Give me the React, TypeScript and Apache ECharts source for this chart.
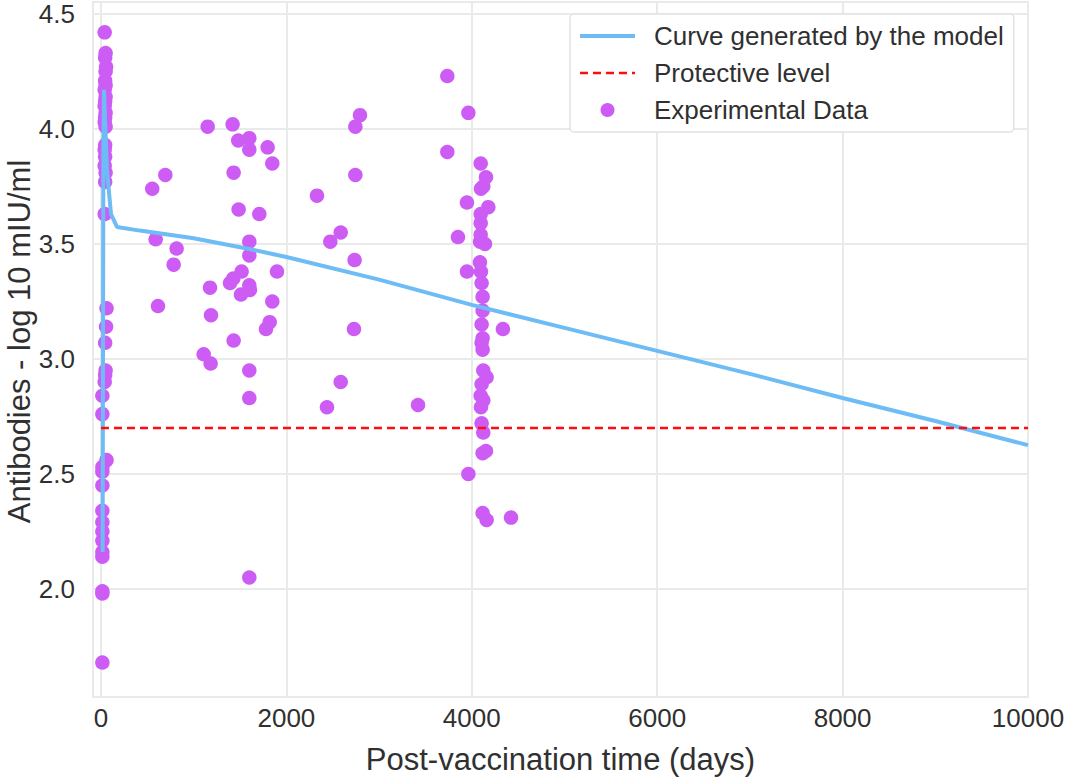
import React, { useEffect, useRef } from "react";
import * as echarts from "echarts";

const seriesNames = ["Curve generated by the model", "Protective level", "Experimental Data"];
const xAxisTitle = "Post-vaccination time (days)";
const yAxisTitle = "Antibodies - log 10 mIU/ml";

// Model curve: [days, log10 mIU/ml]
const modelCurve: number[][] = [
  [18, 2.16], [26, 3.9], [32, 4.17], [43, 4.05], [65, 3.82], [108, 3.63], [173, 3.574],
  [420, 3.558], [1000, 3.525], [1600, 3.478], [2000, 3.443], [3000, 3.345], [4000, 3.235],
  [5000, 3.135], [6000, 3.035], [7000, 2.935], [8000, 2.83], [9000, 2.73], [10000, 2.625],
];

const protectiveLevel = 2.7;
const protectiveRange = [0, 10000];

// Experimental data: [days, log10 mIU/ml]
const experimental: number[][] = [
  [40, 4.42], [50, 4.33], [45, 4.31], [55, 4.27], [50, 4.25], [45, 4.21], [50, 4.19], [40, 4.17],
  [50, 4.14], [45, 4.12], [40, 4.1], [50, 4.07], [45, 4.05], [40, 4.03], [50, 4.01],
  [45, 3.93], [40, 3.91], [45, 3.88], [40, 3.84], [50, 3.81], [45, 3.77], [40, 3.63],
  [60, 3.22], [55, 3.14], [45, 3.07], [50, 2.95], [45, 2.93], [40, 2.9], [15, 2.84], [15, 2.76],
  [60, 2.56], [15, 2.53], [15, 2.51], [15, 2.45], [15, 2.34], [15, 2.29], [15, 2.25], [15, 2.21],
  [15, 2.16], [15, 2.14], [15, 1.99], [15, 1.98], [15, 1.68],
  [553, 3.74], [590, 3.52], [615, 3.23], [694, 3.8], [784, 3.41], [816, 3.48],
  [1108, 3.02], [1151, 4.01], [1176, 3.31], [1183, 2.98], [1187, 3.19],
  [1392, 3.33], [1420, 4.02], [1428, 3.35], [1431, 3.81], [1431, 3.08], [1481, 3.95], [1485, 3.65],
  [1510, 3.28], [1517, 3.38],
  [1600, 3.96], [1600, 3.91], [1600, 3.51], [1600, 3.45], [1600, 3.32], [1607, 3.3], [1600, 2.95],
  [1600, 2.83], [1600, 2.05],
  [1708, 3.63], [1780, 3.13], [1798, 3.92], [1820, 3.16], [1848, 3.85], [1848, 3.25], [1899, 3.38],
  [2330, 3.71], [2438, 2.79], [2474, 3.51], [2586, 3.55], [2586, 2.9], [2729, 3.13], [2736, 3.43],
  [2744, 4.01], [2744, 3.8], [2794, 4.06],
  [3420, 2.8],
  [3736, 4.23], [3736, 3.9], [3851, 3.53], [3948, 3.68], [3948, 3.38], [3963, 4.07], [3963, 2.5],
  [4096, 3.85], [4153, 3.79], [4124, 3.75], [4099, 3.74], [4178, 3.66], [4096, 3.63], [4096, 3.59],
  [4096, 3.54], [4142, 3.5], [4090, 3.51], [4088, 3.42], [4099, 3.38], [4106, 3.33], [4117, 3.27],
  [4117, 3.21], [4106, 3.15], [4336, 3.13], [4117, 3.09], [4106, 3.07], [4117, 3.04], [4124, 2.95],
  [4160, 2.92], [4106, 2.89], [4096, 2.84], [4124, 2.82], [4099, 2.79], [4106, 2.72], [4124, 2.68],
  [4153, 2.6], [4117, 2.59], [4117, 2.33], [4160, 2.3], [4423, 2.31],
];

const xRange = [-86, 10000];
const yRange = [1.53, 4.552];
const xStep = 2000;
const yStep = 0.5;

const FONT = "'Liberation Sans', Arial, sans-serif";
const TEXT = "#303030";
const GRID = "#e9eaea";
const BLUE = "#6ebcf6";
const RED = "#ff0d0d";
const PURPLE = "#cd5cf5";

const hiddenSymbol = { color: "rgba(0,0,0,0)", borderWidth: 0, borderColor: "rgba(0,0,0,0)", opacity: 0 };

export default function App() {
  const ref = useRef<HTMLDivElement>(null);
  useEffect(() => {
    if (!ref.current) return;
    const chart = echarts.init(ref.current, undefined, { renderer: "svg" });
    chart.setOption({
      animation: false,
      backgroundColor: "#ffffff",
      textStyle: { fontFamily: FONT },
      grid: {
        left: 93, right: 37, top: 2, bottom: 85,
        containLabel: false,
        outerBoundsMode: "none",
        show: true, borderColor: GRID, borderWidth: 2, backgroundColor: "#ffffff",
      },
      legend: {
        data: [
          { name: seriesNames[0], itemStyle: hiddenSymbol, lineStyle: { color: BLUE, width: 4 } },
          { name: seriesNames[1], itemStyle: hiddenSymbol, lineStyle: { color: RED, width: 2.5, type: [8, 5] } },
          { name: seriesNames[2] },
        ],
        orient: "vertical",
        left: 570,
        top: 14,
        padding: [7, 10, 7, 8],
        itemWidth: 55,
        itemHeight: 14,
        itemGap: 7,
        backgroundColor: "#ffffff",
        borderColor: "#e2e2e2",
        borderWidth: 1.5,
        borderRadius: 4,
        textStyle: { fontFamily: FONT, fontSize: 26, color: TEXT, lineHeight: 30, padding: [0, 0, 0, 14] },
      },
      xAxis: {
        type: "value",
        min: xRange[0],
        max: xRange[1],
        minInterval: xStep,
        maxInterval: xStep,
        splitNumber: 5,
        name: xAxisTitle,
        nameLocation: "middle",
        nameGap: 47,
        nameMoveOverlap: false,
        nameTextStyle: { fontFamily: FONT, fontSize: 31, color: TEXT },
        axisLine: { show: false },
        axisTick: { show: false },
        axisLabel: {
          fontFamily: FONT, fontSize: 26, color: TEXT, margin: 8,
          formatter: (v: number) => (v >= 0 && Math.abs(v % xStep) < 1e-6 ? String(v) : ""),
        },
        splitLine: { show: true, lineStyle: { color: GRID, width: 2 } },
      },
      yAxis: {
        type: "value",
        min: yRange[0],
        max: yRange[1],
        minInterval: yStep,
        maxInterval: yStep,
        splitNumber: 6,
        name: yAxisTitle,
        nameLocation: "middle",
        nameGap: 58,
        nameMoveOverlap: false,
        nameTextStyle: { fontFamily: FONT, fontSize: 31, color: TEXT, padding: [0, 0, 0, 16] },
        axisLine: { show: false },
        axisTick: { show: false },
        axisLabel: {
          fontFamily: FONT, fontSize: 26, color: TEXT, margin: 18,
          formatter: (v: number) => {
            const r = Math.round(v / yStep) * yStep;
            return Math.abs(r - v) < 1e-6 ? r.toFixed(1) : "";
          },
        },
        splitLine: { show: true, lineStyle: { color: GRID, width: 2 } },
      },
      series: [
        {
          name: seriesNames[2],
          type: "scatter",
          data: experimental,
          symbol: "circle",
          symbolSize: 14.5,
          itemStyle: { color: PURPLE, opacity: 1 },
          z: 2,
        },
        {
          name: seriesNames[0],
          type: "line",
          data: modelCurve,
          showSymbol: false,
          symbol: "none",
          lineStyle: { color: BLUE, width: 4 },
          itemStyle: { color: BLUE },
          z: 3,
        },
        {
          name: seriesNames[1],
          type: "line",
          data: protectiveRange.map((x) => [x, protectiveLevel]),
          showSymbol: false,
          symbol: "none",
          lineStyle: { color: RED, width: 2.5, type: [8, 5] },
          itemStyle: { color: RED },
          z: 4,
        },
      ],
    });
    return () => chart.dispose();
  }, []);
  return <div ref={ref} style={{ width: 1065, height: 782, position: "absolute", left: 0, top: 0 }} />;
}
